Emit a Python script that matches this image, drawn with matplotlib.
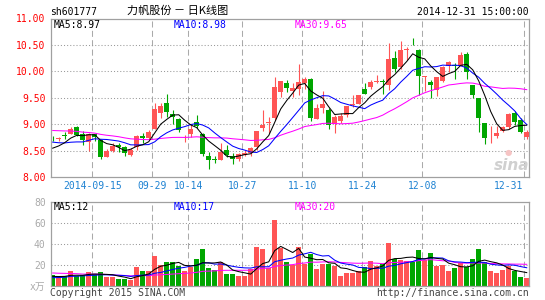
import numpy as np
import pandas as pd
import matplotlib
matplotlib.use('Agg')
import matplotlib.pyplot as plt

plt.rcParams['font.family'] = ['DejaVu Sans Mono', 'Noto Sans CJK SC']

W, H = 545, 300

# daily OHLC, 2014-09-03 .. 2014-12-31
opens = [8.74, 8.72, 8.80, 8.82, 8.94, 8.82, 8.67, 8.82, 8.70, 8.38,
         8.50, 8.61, 8.57, 8.42, 8.56, 8.78, 8.74, 8.91, 9.21, 9.41,
         9.20, 9.09, 8.75, 8.81, 9.04, 8.82, 8.39, 8.35, 8.33, 8.52,
         8.39, 8.35, 8.42, 8.46, 8.57, 8.93, 9.02, 9.11, 9.61, 9.78,
         9.625, 9.675, 9.77, 9.86, 9.10, 9.30, 9.27, 9.00, 9.06, 9.175,
         9.36, 9.39, 9.66, 9.71, 9.80, 9.81, 9.75, 10.25, 10.08, 10.41,
         10.54, 10.41, 9.89, 9.80, 9.64, 9.81, 10.11, 10.12, 10.10, 10.33,
         9.75, 9.49, 9.02, 8.77, 8.77, 8.875, 8.94, 9.22, 9.08, 8.75]
highs = [8.78, 8.76, 8.86, 8.95, 8.97, 8.88, 8.84, 8.82, 8.72, 8.53,
         8.64, 8.64, 8.58, 8.55, 8.80, 8.84, 8.89, 9.40, 9.40, 9.58,
         9.27, 9.11, 8.80, 8.99, 9.17, 8.84, 8.47, 8.40, 8.64, 8.61,
         8.46, 8.46, 8.51, 8.57, 8.88, 9.26, 9.14, 9.89, 9.82, 9.84,
         9.77, 10.14, 9.89, 9.87, 9.39, 9.625, 9.30, 9.175, 9.21, 9.35,
         9.55, 9.56, 9.77, 9.83, 9.925, 9.86, 10.54, 10.39, 10.58, 10.46,
         10.64, 10.43, 9.91, 9.83, 9.89, 10.11, 10.19, 10.16, 10.36, 10.375,
         9.75, 9.49, 9.02, 8.96, 8.96, 8.96, 9.21, 9.24, 9.11, 8.89]
lows = [8.68, 8.68, 8.71, 8.82, 8.78, 8.60, 8.50, 8.69, 8.35, 8.37,
        8.48, 8.48, 8.39, 8.40, 8.51, 8.65, 8.71, 8.91, 9.11, 9.14,
        9.01, 8.86, 8.66, 8.75, 8.93, 8.40, 8.16, 8.26, 8.32, 8.37,
        8.24, 8.30, 8.40, 8.40, 8.52, 8.88, 8.83, 9.08, 9.51, 9.61,
        9.52, 9.55, 9.675, 9.06, 9.09, 9.21, 8.91, 8.83, 9.02, 9.14,
        9.33, 9.39, 9.58, 9.675, 9.77, 9.58, 9.64, 9.99, 10.05, 10.22,
        10.49, 9.55, 9.625, 9.49, 9.54, 9.79, 9.99, 9.85, 10.10, 9.85,
        9.49, 8.86, 8.63, 8.64, 8.74, 8.86, 8.91, 8.99, 8.83, 8.71]
closes = [8.73, 8.73, 8.77, 8.91, 8.80, 8.70, 8.82, 8.76, 8.38, 8.50,
          8.59, 8.57, 8.45, 8.52, 8.78, 8.73, 8.86, 9.28, 9.35, 9.23,
          9.14, 8.89, 8.76, 8.91, 8.97, 8.44, 8.32, 8.33, 8.47, 8.41,
          8.34, 8.44, 8.46, 8.55, 8.88, 8.99, 9.04, 9.71, 9.82, 9.68,
          9.69, 9.80, 9.86, 9.11, 9.31, 9.375, 8.99, 9.13, 9.16, 9.35,
          9.37, 9.56, 9.58, 9.79, 9.81, 9.80, 10.24, 10.05, 10.41, 10.43,
          10.53, 9.91, 9.90, 9.74, 9.89, 10.08, 10.175, 10.11, 10.31, 9.99,
          9.56, 9.125, 8.74, 8.78, 8.83, 8.94, 9.19, 9.05, 8.86, 8.86]
# volume, x 10k
vols = [10.0, 8.3, 8.7, 13.5, 8.7, 9.6, 12.5, 10.6, 12.5, 8.0,
        8.0, 5.8, 5.8, 5.1, 17.3, 13.5, 13.5, 28.2, 19.9, 22.1,
        22.1, 18.3, 13.8, 17.7, 25.0, 34.7, 16.4, 14.4, 22.1, 10.6,
        10.6, 8.7, 8.7, 16.0, 37.0, 34.7, 17.0, 62.6, 36.0, 22.5,
        19.9, 36.9, 20.9, 30.5, 15.4, 20.9, 20.9, 18.6, 8.7, 11.9,
        11.9, 13.5, 17.7, 23.1, 18.3, 20.9, 40.8, 25.7, 24.1, 23.1,
        22.5, 33.7, 24.1, 31.1, 18.6, 19.3, 13.8, 16.7, 21.5, 17.7,
        25.0, 35.0, 22.5, 14.0, 12.0, 14.5, 18.5, 13.5, 8.5, 6.8]

# sessions before the window, estimated from where the MA lines start
pre_closes = [8.85, 8.90, 8.95, 9.02, 9.10, 9.05, 9.12, 9.08, 9.00, 8.96,
              9.04, 9.10, 9.06, 8.98, 8.92, 8.95, 9.00, 8.94, 8.90, 8.88,
              8.85, 8.80, 8.78, 8.74, 8.70, 8.52, 8.46, 8.48, 8.54]
pre_vols = [16, 12, 18, 14, 20, 15, 11, 13, 17, 22,
            14, 12, 16, 13, 10, 15, 12, 11, 14, 10,
            7, 6, 5, 7, 6.4, 9, 8, 8.6, 8]

date_idx = [7, 17, 23, 32, 42, 52, 62, 79]
date_labels = ['2014-09-15', '09-29', '10-14', '10-27', '11-10', '11-24', '12-08', '12-31']
price_ticks = [8.0, 8.5, 9.0, 9.5, 10.0, 10.5, 11.0]
vol_ticks = [20, 40, 60, 80]

RED = '#ff5555'
GREEN = '#00a600'
GRID = '#aaaaaa'
FRAME = '#a0a0a0'
MA_COLORS = {5: 'black', 10: '#0000ff', 30: '#ff00ff'}

n = len(closes)
x = np.arange(n)
o = np.array(opens)
c = np.array(closes)
k = len(pre_closes)
c_all = pd.Series(pre_closes + closes)
v_all = pd.Series(pre_vols + vols)
ma = {w: c_all.rolling(w).mean().to_numpy()[k:] for w in (5, 10, 30)}
vma = {w: v_all.rolling(w).mean().to_numpy()[k:] for w in (5, 10, 30)}
colors = np.where(c >= o, RED, GREEN)

fig = plt.figure(figsize=(W / 100, H / 100), dpi=100)


def box(l, t, r, b):
    return [l / W, 1 - b / H, (r - l) / W, (b - t) / H]


def ftext(xp, yp, s, **kw):
    fig.text(xp / W, 1 - yp / H, s, **kw)


ax1 = fig.add_axes(box(50.5, 18.5, 529, 177))
ax2 = fig.add_axes(box(50.5, 202, 529, 285.5))
dash = (0, (5.8, 3.2))
dots = (0, (1, 2))

for ax in (ax1, ax2):
    ax.set_xlim(-0.37, 79.38)
    for sp in ax.spines.values():
        sp.set_color(FRAME)
        sp.set_linewidth(0.9)
    for d in date_idx:
        ax.axvline(d - 0.4, color=GRID, lw=0.75, ls=dash, zorder=0)

# price panel
ax1.set_ylim(8.0, 11.0)
for p in price_ticks[1:-1]:
    ax1.axhline(p, color='#999999', lw=0.75, ls=dots, zorder=0)
ax1.vlines(x, lows, highs, colors=colors, lw=0.8, zorder=2)
ax1.bar(x, np.maximum(np.abs(c - o), 0.014), bottom=np.minimum(o, c),
        width=0.8, color=colors, lw=0, zorder=3)
for w in (30, 10, 5):
    ax1.plot(x, ma[w], color=MA_COLORS[w], lw=0.75, zorder=4)
ax1.set_yticks(price_ticks)
ax1.set_yticklabels(['%.2f' % p for p in price_ticks])
ax1.tick_params(axis='y', length=0, pad=3.5, labelcolor='#ff0000', labelsize=7)
# the last date label is pulled left so it stays inside the frame
label_pos = [d - 0.4 for d in date_idx]
label_pos[-1] = date_idx[-1] - 3.1
ax1.set_xticks(label_pos)
ax1.set_xticklabels(date_labels)
ax1.tick_params(axis='x', length=0, pad=3.2, labelcolor='#1e82d2', labelsize=7)

# volume panel
ax2.set_ylim(0, 80)
for v in vol_ticks[:-1]:
    ax2.axhline(v, color='#999999', lw=0.75, ls=dots, zorder=0)
ax2.bar(x, vols, width=0.84, color=colors, lw=0, zorder=2)
for w in (30, 10, 5):
    ax2.plot(x, vma[w], color=MA_COLORS[w], lw=0.75, zorder=4)
ax2.set_yticks(vol_ticks)
ax2.tick_params(axis='y', length=0, pad=3.5, labelcolor='#aaaaaa', labelsize=7)
ax2.set_xticks([])

# texts
ftext(50, 12, 'sh601777', fontsize=7, va='center')
ftext(178, 11, '力帆股份 － 日K线图', fontsize=8, ha='center', va='center',
      family=['Noto Sans CJK SC', 'DejaVu Sans'])
ftext(529, 12, '2014-12-31 15:00:00', fontsize=7, ha='right', va='center')
ftext(54, 24.5, 'MA5:8.97', fontsize=7, va='center', color='black')
ftext(174, 24.5, 'MA10:8.98', fontsize=7, va='center', color='#0000ff')
ftext(295, 24.5, 'MA30:9.65', fontsize=7, va='center', color='#ff00ff')
ftext(54, 206.5, 'MA5:12', fontsize=7, va='center', color='black')
ftext(174, 206.5, 'MA10:17', fontsize=7, va='center', color='#0000ff')
ftext(295, 206.5, 'MA30:20', fontsize=7, va='center', color='#ff00ff')
ftext(45, 287, 'x万', fontsize=7, ha='right', va='center', color='#aaaaaa')
ftext(50, 293, 'Copyright 2015 SINA.COM', fontsize=7, va='center', color='#444444')
ftext(529, 293, 'http://finance.sina.com.cn', fontsize=7, ha='right', va='center',
      color='#444444')
ftext(512, 165, 'sina', fontsize=11, ha='center', va='center', color='#d0d0d0',
      style='italic', weight='bold', family='DejaVu Sans')
ftext(508, 153, '●', fontsize=6, ha='center', va='center', color='#f6c4c4',
      family='DejaVu Sans')

fig.savefig('out.png', dpi=100)
